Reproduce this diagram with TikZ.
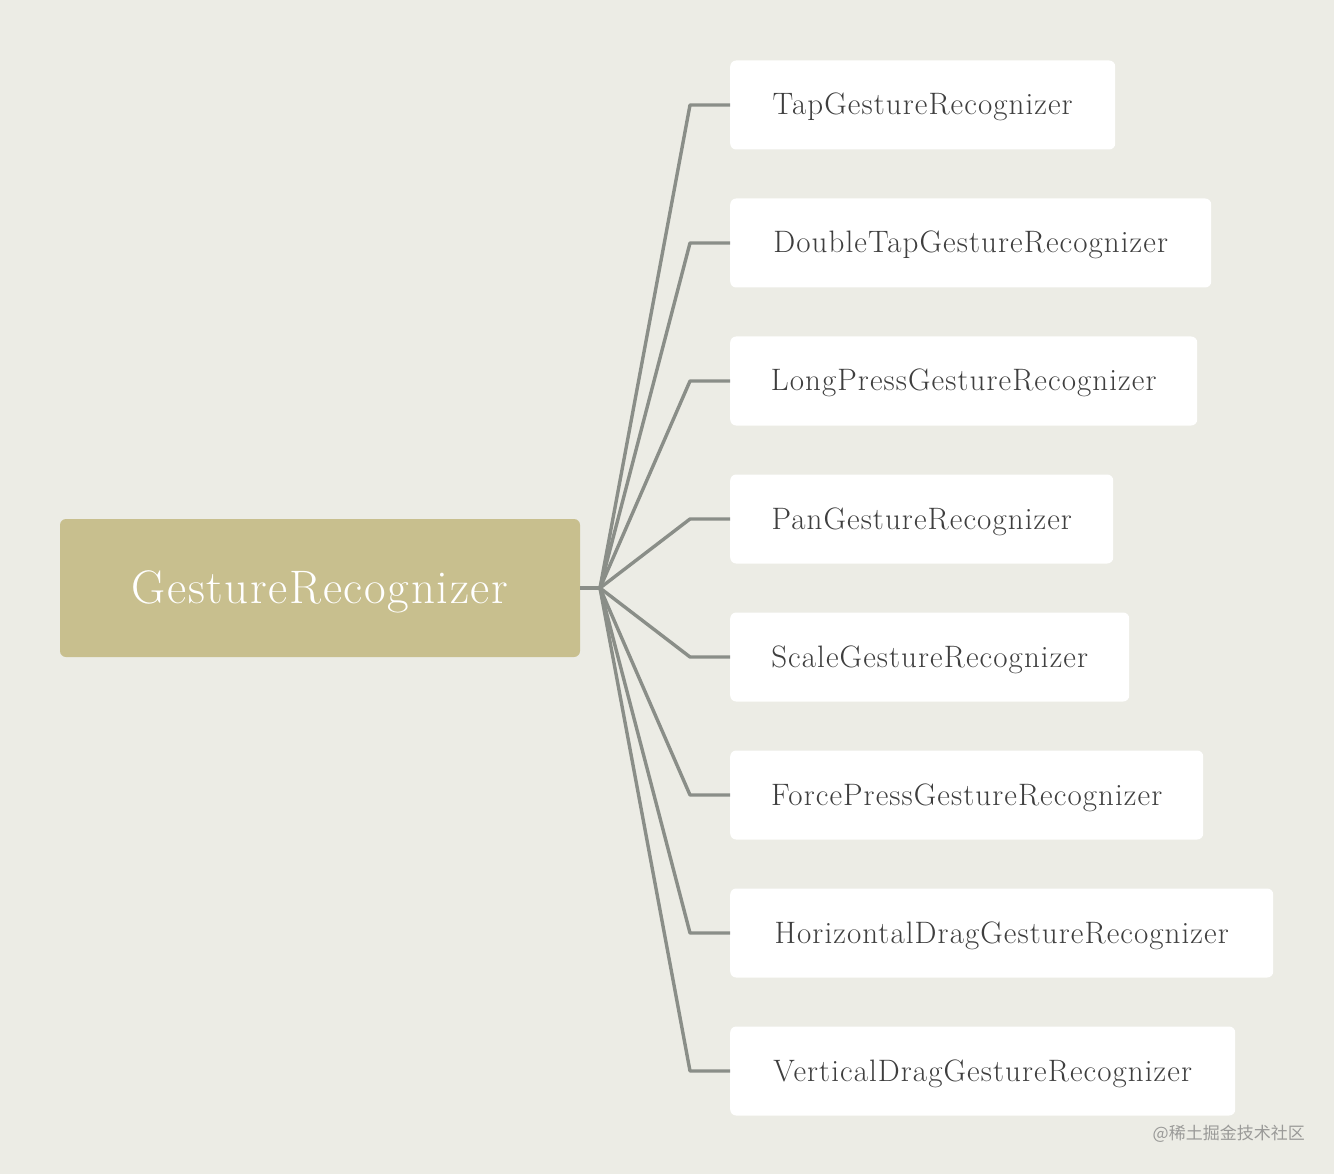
\documentclass[tikz,border=0pt]{standalone}
\usepackage{fontspec}
\newfontfamily\cjk{Noto Sans CJK SC}
\newfontfamily\rootfont[LetterSpace=3.5]{Latin Modern Roman}
\newfontfamily\childfont[LetterSpace=3.5]{Latin Modern Roman}
\definecolor{bg}{HTML}{ECECE5}
\definecolor{rootc}{HTML}{C8BF8E}
\definecolor{linec}{HTML}{8A8E88}
\definecolor{txt}{HTML}{3E3E3E}
\definecolor{wm}{HTML}{9A9A98}
\begin{document}
\begin{tikzpicture}[x=1pt,y=-1pt,
  rootbox/.style={fill=rootc,rounded corners=6pt,minimum width=520pt,minimum height=138pt,inner sep=0pt,text=white,font=\rootfont\fontsize{47}{56}\selectfont,text height=40pt,text depth=10pt},
  childbox/.style={fill=white,rounded corners=6pt,minimum height=89pt,inner sep=0pt,anchor=west,text=txt,font=\childfont\fontsize{31}{37}\selectfont,text height=27pt,text depth=7pt},
  conn/.style={draw=linec,line width=3.4pt,line join=round}]
\useasboundingbox[fill=bg] (0,0) rectangle (1334,1174);
\node[rootbox] (r) at (320,588) {GestureRecognizer};
\coordinate (j) at (600,588);
\node[childbox,minimum width=385pt] (c1) at (730,105) {TapGestureRecognizer};
\node[childbox,minimum width=481pt] (c2) at (730,243) {DoubleTapGestureRecognizer};
\node[childbox,minimum width=467pt] (c3) at (730,381) {LongPressGestureRecognizer};
\node[childbox,minimum width=383pt] (c4) at (730,519) {PanGestureRecognizer};
\node[childbox,minimum width=399pt] (c5) at (730,657) {ScaleGestureRecognizer};
\node[childbox,minimum width=473pt] (c6) at (730,795) {ForcePressGestureRecognizer};
\node[childbox,minimum width=543pt] (c7) at (730,933) {HorizontalDragGestureRecognizer};
\node[childbox,minimum width=505pt] (c8) at (730,1071) {VerticalDragGestureRecognizer};
\draw[conn] (r.east) -- (j);
\foreach \i/\y in {1/105,2/243,3/381,4/519,5/657,6/795,7/933,8/1071}{
  \coordinate (b\i) at (690,\y);
  \draw[conn] (j) -- (b\i) -- (c\i.west);
}
\node[anchor=east,text=wm,font=\cjk\fontsize{17}{20}\selectfont,inner sep=0pt] (w) at (1305,1134) {@稀土掘金技术社区};
\end{tikzpicture}
\end{document}
